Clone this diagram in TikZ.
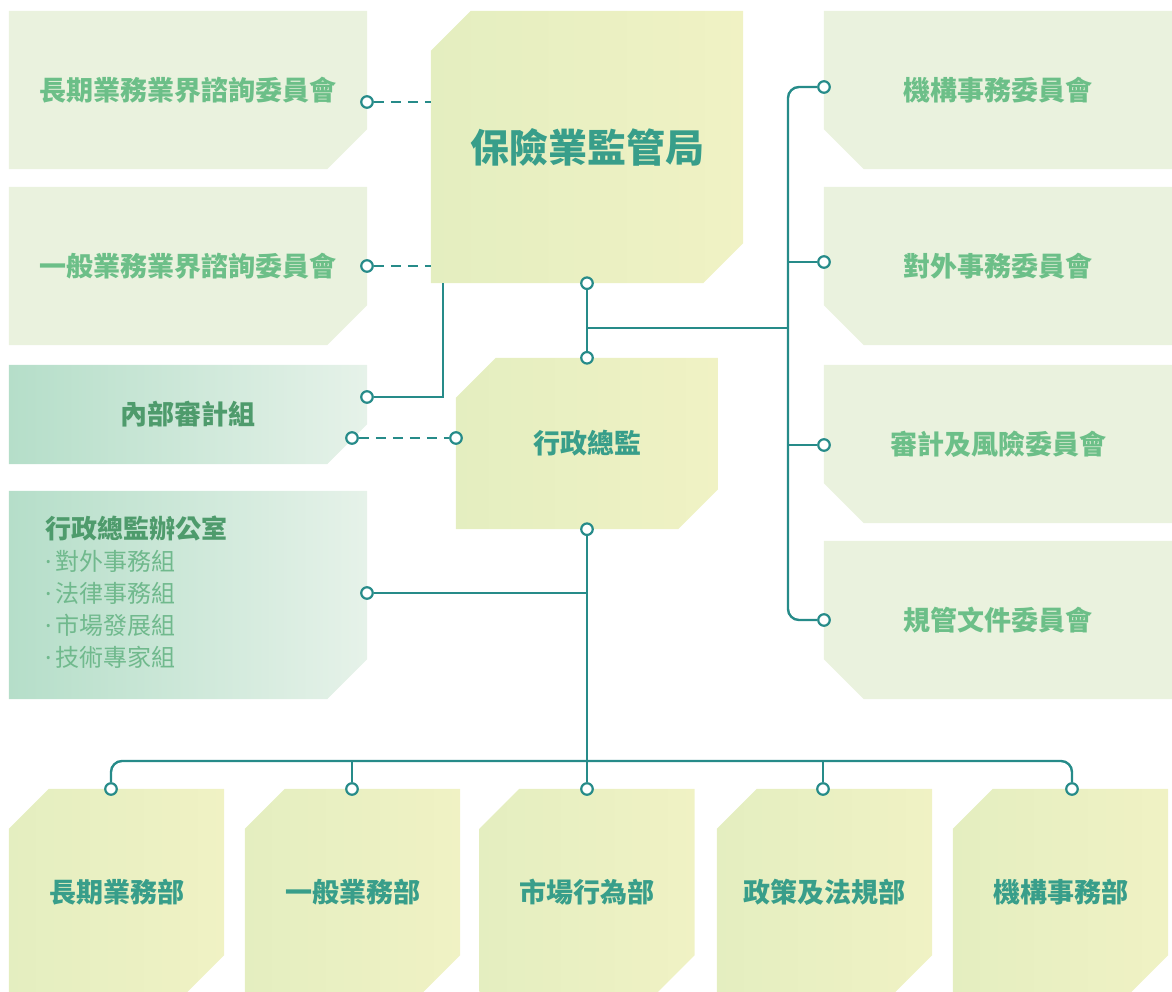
\documentclass[tikz,border=0pt]{standalone}
\usepackage{fontspec}
\newfontfamily\cjk{Noto Sans CJK TC}
\newfontfamily\latin{Noto Sans}
\usetikzlibrary{backgrounds}

\definecolor{linec}{HTML}{268B89}
\definecolor{comfill}{HTML}{EAF2DE}
\definecolor{comtext}{HTML}{6CBF88}
\definecolor{yelL}{HTML}{E4EEC0}
\definecolor{yelR}{HTML}{F0F2C4}
\definecolor{mintL}{HTML}{B5DEC9}
\definecolor{mintR}{HTML}{E6F2E9}
\definecolor{maintext}{HTML}{389E8A}
\definecolor{offtext}{HTML}{4E9B6C}
\definecolor{itemtext}{HTML}{70B98D}

% chamfered fills, taken from the anchors of a box node
\newcommand{\cutlen}{40pt}
\newcommand{\cutse}[2]{\path[#2] (#1.north west) -- (#1.north east) -- ([yshift=\cutlen]#1.south east)
  -- ([xshift=-\cutlen]#1.south east) -- (#1.south west) -- cycle;}
\newcommand{\cutsw}[2]{\path[#2] (#1.north west) -- (#1.north east) -- (#1.south east)
  -- ([xshift=\cutlen]#1.south west) -- ([yshift=\cutlen]#1.south west) -- cycle;}
\newcommand{\cutnwse}[2]{\path[#2] ([xshift=\cutlen]#1.north west) -- (#1.north east) -- ([yshift=\cutlen]#1.south east)
  -- ([xshift=-\cutlen]#1.south east) -- (#1.south west) -- ([yshift=-\cutlen]#1.north west) -- cycle;}
% list bullet of the office box
\newcommand{\itemdot}{{\latin ·}\hspace{4pt}}

\begin{document}
\begin{tikzpicture}
    [x=1pt, y=-1pt,
     box/.style={rectangle, inner sep=0, font=\cjk\bfseries\fontsize{27}{32}\selectfont},
     combox/.style={box, minimum width=358pt, minimum height=158pt, text=comtext},
     rcombox/.style={combox, minimum width=348pt},
     unitbox/.style={box, minimum width=215pt, minimum height=206pt, text=maintext},
     comfillc/.style={fill=comfill},
     yelfill/.style={left color=yelL, right color=yelR},
     mintfill/.style={left color=mintL, right color=mintR},
     link/.style={draw=linec, line width=2.4pt},
     dashlink/.style={link, dash pattern=on 10pt off 7pt},
     dot/.style={circle, draw=linec, fill=white, line width=2.2pt, minimum size=11.5pt, inner sep=0}]
  \useasboundingbox (0,0) rectangle (1172,992);

  % left committees
  \node[combox] (lcom) at (188,90) {長期業務業界諮詢委員會};
  \node[combox] (gcom) at (188,266) {一般業務業界諮詢委員會};
  \node[combox, minimum height=99pt, text=offtext] (audit) at (188,414.5) {內部審計組};
  \node[box, minimum height=208pt, text width=286pt, inner xsep=36pt, align=left,
        text=itemtext, font=\cjk\fontsize{24}{32}\selectfont] (office) at (188,595)
    {{\color{offtext}\bfseries\fontsize{26}{32}\selectfont 行政總監辦公室}\\
     \itemdot 對外事務組\\ \itemdot 法律事務組\\ \itemdot 市場發展組\\ \itemdot 技術專家組\\[-24pt]\mbox{}};

  % centre
  \node[box, minimum width=312pt, minimum height=272pt, text=maintext,
        font=\cjk\bfseries\fontsize{39}{44}\selectfont] (ia) at (587,147) {保險業監管局};
  \node[box, minimum width=262pt, minimum height=171pt, text=maintext] (ceo) at (587,443.5) {行政總監};

  % right committees
  \node[rcombox] (rcom1) at (998,90) {機構事務委員會};
  \node[rcombox] (rcom2) at (998,266) {對外事務委員會};
  \node[rcombox] (rcom3) at (998,444) {審計及風險委員會};
  \node[rcombox] (rcom4) at (998,620) {規管文件委員會};

  % divisions
  \node[unitbox] (div1) at (116.5,892) {長期業務部};
  \node[unitbox] (div2) at (352.5,892) {一般業務部};
  \node[unitbox] (div3) at (587,892) {市場行為部};
  \node[unitbox] (div4) at (824.5,892) {政策及法規部};
  \node[unitbox] (div5) at (1060.5,892) {機構事務部};

  % dots
  \node[dot] (lcomd) at (367,102) {};
  \node[dot] (gcomd) at (367,266) {};
  \node[dot] (auditd) at (367,397) {};
  \node[dot] (auditd2) at (352,438) {};
  \node[dot] (officed) at (367,593) {};
  \node[dot] (iad) at (ia.south) {};
  \node[dot] (ceot) at (ceo.north) {};
  \node[dot] (ceol) at (456,438) {};
  \node[dot] (ceob) at (ceo.south) {};
  \node[dot] (rd1) at (824,87) {};
  \node[dot] (rd2) at (824,262) {};
  \node[dot] (rd3) at (824,445) {};
  \node[dot] (rd4) at (824,620) {};
  \node[dot] (dd1) at (111,789) {};
  \node[dot] (dd2) at (352,789) {};
  \node[dot] (dd3) at (587,789) {};
  \node[dot] (dd4) at (823,789) {};
  \node[dot] (dd5) at (1072,789) {};

  \coordinate (spine) at (788,328);
  \coordinate (bus) at (587,761);

  \begin{scope}[on background layer]
  \cutse{lcom}{comfillc}
  \cutse{gcom}{comfillc}
  \cutse{audit}{mintfill}
  \cutse{office}{mintfill}
  \cutnwse{ia}{yelfill}
  \cutnwse{ceo}{yelfill}
  \cutsw{rcom1}{comfillc}
  \cutsw{rcom2}{comfillc}
  \cutsw{rcom3}{comfillc}
  \cutsw{rcom4}{comfillc}
  \cutnwse{div1}{yelfill}
  \cutnwse{div2}{yelfill}
  \cutnwse{div3}{yelfill}
  \cutnwse{div4}{yelfill}
  \cutnwse{div5}{yelfill}

  \draw[dashlink] (lcomd) -- (lcomd -| ia.west);
  \draw[dashlink] (gcomd) -- (gcomd -| ia.west);
  \draw[link] (auditd) -| ([xshift=12pt]ia.south west);
  \draw[dashlink] (auditd2) -- (ceol);
  \draw[link] (iad) -- (ceot);
  \draw[link] (iad) |- (spine);
  \draw[link, rounded corners=11pt] (rd1) -| (spine) |- (rd4);
  \draw[link] (rd2) -- (rd2 -| spine);
  \draw[link] (rd3) -- (rd3 -| spine);
  \draw[link] (ceob) -- (dd3);
  \draw[link] (officed) -- (officed -| ceob);
  \draw[link, rounded corners=11pt] (dd1) |- (bus) -| (dd5);
  \draw[link] (dd2) -- (dd2 |- bus);
  \draw[link] (dd4) -- (dd4 |- bus);
  \end{scope}
\end{tikzpicture}
\end{document}
